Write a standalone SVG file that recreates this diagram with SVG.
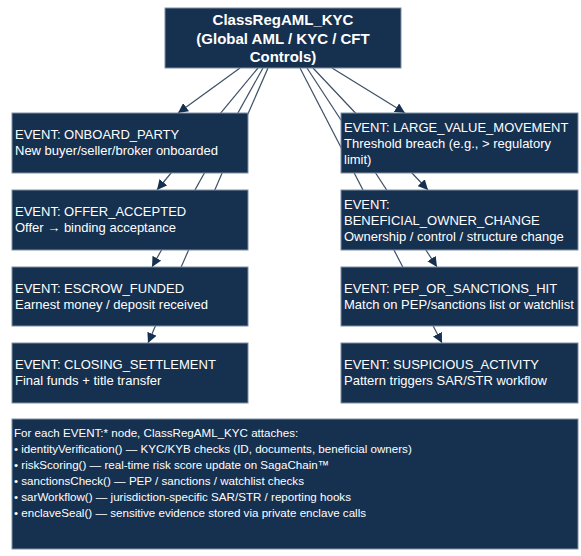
<svg xmlns="http://www.w3.org/2000/svg" width="581" height="556" viewBox="0 0 581 556">
  <style>
    .box { fill: #16304f; stroke: #7f8fa3; stroke-width: 1; }
    .edge { fill: none; stroke: #3e4f66; stroke-width: 1.2; }
    .title { font-family: "Liberation Sans", Arial, sans-serif; font-size: 15px; font-weight: bold; fill: #ffffff; text-anchor: middle; }
    .lbl { font-family: "Liberation Sans", Arial, sans-serif; font-size: 13px; fill: #ffffff; }
    .note { font-family: "Liberation Sans", Arial, sans-serif; font-size: 11.6px; fill: #ffffff; }
  </style>
  <defs>
    <marker id="arrow" viewBox="0 0 10 10" refX="10" refY="5" markerWidth="10" markerHeight="10" markerUnits="userSpaceOnUse" orient="auto">
      <path d="M0,0 L10,5 L0,10 z" fill="#16304f"/>
    </marker>
  </defs>

  <rect width="581" height="556" fill="#ffffff"/>

  <!-- connectors: drawn first so the event boxes sit on top of them -->
  <g id="connectors">
    <line class="edge" x1="240" y1="68" x2="178" y2="113" marker-end="url(#arrow)"/>
    <line class="edge" x1="258" y1="68" x2="157" y2="190" marker-end="url(#arrow)"/>
    <line class="edge" x1="263" y1="68" x2="152" y2="267" marker-end="url(#arrow)"/>
    <line class="edge" x1="268" y1="68" x2="148" y2="343" marker-end="url(#arrow)"/>
    <line class="edge" x1="332" y1="68" x2="405" y2="113" marker-end="url(#arrow)"/>
    <line class="edge" x1="313" y1="68" x2="428" y2="190" marker-end="url(#arrow)"/>
    <line class="edge" x1="307" y1="68" x2="437" y2="267" marker-end="url(#arrow)"/>
    <line class="edge" x1="300" y1="68" x2="442" y2="343" marker-end="url(#arrow)"/>
  </g>

  <g id="classRegAML_KYC">
    <rect class="box" x="165" y="8" width="236" height="60"/>
    <text class="title" x="283" y="25">ClassRegAML_KYC</text>
    <text class="title" x="283" y="43.5">(Global AML / KYC / CFT</text>
    <text class="title" x="283" y="62">Controls)</text>
  </g>

  <g id="onboardParty">
    <rect class="box" x="12" y="113" width="236" height="60"/>
    <text class="lbl" x="15" y="139">EVENT: ONBOARD_PARTY</text>
    <text class="lbl" x="15" y="155">New buyer/seller/broker onboarded</text>
  </g>

  <g id="offerAccepted">
    <rect class="box" x="12" y="190" width="236" height="60"/>
    <text class="lbl" x="15" y="216">EVENT: OFFER_ACCEPTED</text>
    <text class="lbl" x="15" y="232">Offer → binding acceptance</text>
  </g>

  <g id="escrowFunded">
    <rect class="box" x="12" y="267" width="236" height="59"/>
    <text class="lbl" x="15" y="292.5">EVENT: ESCROW_FUNDED</text>
    <text class="lbl" x="15" y="308.5">Earnest money / deposit received</text>
  </g>

  <g id="closingSettlement">
    <rect class="box" x="12" y="343" width="236" height="60"/>
    <text class="lbl" x="15" y="369">EVENT: CLOSING_SETTLEMENT</text>
    <text class="lbl" x="15" y="385">Final funds + title transfer</text>
  </g>

  <g id="largeValueMovement">
    <rect class="box" x="341" y="113" width="237" height="60"/>
    <text class="lbl" x="344" y="132">EVENT: LARGE_VALUE_MOVEMENT</text>
    <text class="lbl" x="344" y="148">Threshold breach (e.g., &gt; regulatory</text>
    <text class="lbl" x="344" y="164">limit)</text>
  </g>

  <g id="beneficialOwnerChange">
    <rect class="box" x="341" y="190" width="237" height="60"/>
    <text class="lbl" x="344" y="209">EVENT:</text>
    <text class="lbl" x="344" y="225">BENEFICIAL_OWNER_CHANGE</text>
    <text class="lbl" x="344" y="241">Ownership / control / structure change</text>
  </g>

  <g id="pepOrSanctionsHit">
    <rect class="box" x="341" y="267" width="237" height="59"/>
    <text class="lbl" x="344" y="292.5">EVENT: PEP_OR_SANCTIONS_HIT</text>
    <text class="lbl" x="344" y="308.5">Match on PEP/sanctions list or watchlist</text>
  </g>

  <g id="suspiciousActivity">
    <rect class="box" x="341" y="343" width="237" height="60"/>
    <text class="lbl" x="344" y="369">EVENT: SUSPICIOUS_ACTIVITY</text>
    <text class="lbl" x="344" y="385">Pattern triggers SAR/STR workflow</text>
  </g>

  <g id="controlsNote">
    <rect class="box" x="12" y="419" width="566" height="130"/>
    <text class="note" x="14" y="437">For each EVENT:* node, ClassRegAML_KYC attaches:</text>
    <text class="note" x="14" y="453">• identityVerification() — KYC/KYB checks (ID, documents, beneficial owners)</text>
    <text class="note" x="14" y="469">• riskScoring() — real-time risk score update on SagaChain™</text>
    <text class="note" x="14" y="485">• sanctionsCheck() — PEP / sanctions / watchlist checks</text>
    <text class="note" x="14" y="501">• sarWorkflow() — jurisdiction-specific SAR/STR / reporting hooks</text>
    <text class="note" x="14" y="517">• enclaveSeal() — sensitive evidence stored via private enclave calls</text>
  </g>
</svg>
